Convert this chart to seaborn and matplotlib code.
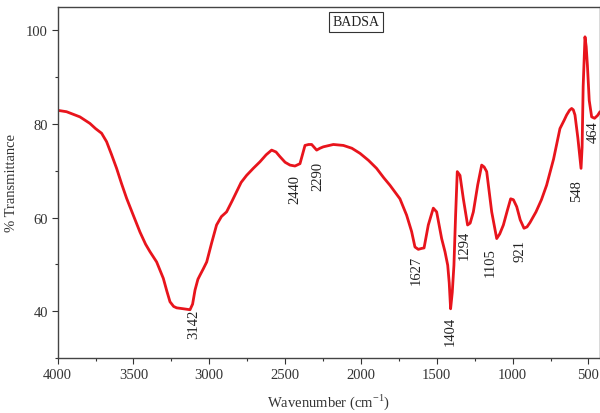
import matplotlib
matplotlib.use("Agg")
import matplotlib.pyplot as plt
import seaborn as sns
import pandas as pd
from matplotlib.ticker import MultipleLocator

wavenumber = [4000, 3941, 3853, 3787, 3750, 3710, 3677, 3645, 3611, 3578, 3545, 3500, 3457,
              3420, 3391, 3347, 3303, 3280, 3259, 3235, 3215, 3170, 3127, 3110, 3094, 3075,
              3061, 3040, 3017, 2985, 2952, 2920, 2886, 2850, 2820, 2790, 2754, 2710, 2666,
              2625, 2589, 2560, 2534, 2500, 2468, 2435, 2402, 2385, 2369, 2345, 2325, 2292,
              2270, 2248, 2182, 2116, 2060, 2006, 1950, 1897, 1850, 1809, 1743, 1699, 1666,
              1644, 1622, 1600, 1584, 1556, 1523, 1501, 1468, 1446, 1428, 1418, 1409, 1398,
              1387, 1376, 1365, 1347, 1325, 1297, 1280, 1259, 1230, 1204, 1188, 1171, 1138,
              1105, 1085, 1061, 1035, 1013, 995, 973, 950, 925, 905, 886, 846, 810, 776, 730,
              688, 660, 644, 625, 611, 600, 589, 570, 549, 542, 535, 523, 515, 507, 495, 479,
              460, 440, 424]
transmittance = [82.9, 82.6, 81.5, 80.1, 79.0, 78.0, 76.2, 73.5, 70.5, 67.2, 64.1, 60.4, 56.9,
                 54.3, 52.7, 50.5, 47.0, 44.3, 42.0, 41.0, 40.7, 40.5, 40.3, 41.5, 44.5, 46.8,
                 47.7, 49.0, 50.5, 54.5, 58.4, 60.2, 61.2, 63.5, 65.5, 67.5, 69.0, 70.5, 71.9,
                 73.4, 74.4, 74.0, 73.0, 71.8, 71.2, 71.0, 71.5, 73.5, 75.4, 75.6, 75.6, 74.4,
                 74.8, 75.1, 75.6, 75.4, 74.8, 73.7, 72.2, 70.5, 68.5, 66.9, 64.0, 60.5, 57.0,
                 53.7, 53.2, 53.4, 53.5, 58.4, 62.0, 61.2, 55.5, 52.7, 49.8, 46.0, 40.5, 44.0,
                 49.8, 60.5, 69.8, 69.0, 64.0, 58.4, 58.8, 61.2, 67.0, 71.2, 70.8, 69.8, 61.2,
                 55.5, 56.5, 58.4, 61.5, 64.0, 63.8, 62.3, 59.5, 57.7, 58.0, 58.9, 61.2, 63.8,
                 66.9, 72.5, 79.0, 80.8, 81.9, 82.9, 83.3, 83.0, 81.9, 77.0, 70.5, 75.0, 88.0,
                 98.6, 96.5, 92.5, 85.0, 81.5, 81.2, 81.8, 82.6]

peak_labels = ["3142", "2440", "2290", "1627", "1404", "1294", "1105", "921", "548", "464"]
label_x = [3105, 2435, 2281, 1633, 1413, 1321, 1149, 951, 578, 468]
label_top = [40.6, 69.4, 72.2, 52.0, 39.0, 57.3, 53.7, 55.5, 68.3, 80.8]

df = pd.DataFrame({"Wavenumber": wavenumber, "Transmittance": transmittance})

sns.set_theme(style="ticks")
plt.rcParams['font.family'] = ['Liberation Serif', 'DejaVu Serif']
plt.rcParams['mathtext.fontset'] = 'custom'
plt.rcParams['mathtext.rm'] = 'Liberation Serif'

fig = plt.figure(figsize=(6.0, 4.14), dpi=100)
ax = fig.add_axes([0.096, 0.133, 0.904, 0.848])

sns.lineplot(data=df, x="Wavenumber", y="Transmittance", sort=False, ax=ax,
             color="#e8141c", linewidth=2.0, estimator=None)

ax.set_xlim(4000, 424)
ax.set_ylim(30, 105)
ax.xaxis.set_major_locator(MultipleLocator(500))
ax.xaxis.set_minor_locator(MultipleLocator(250))
ax.yaxis.set_major_locator(MultipleLocator(20))
ax.yaxis.set_minor_locator(MultipleLocator(10))
ax.tick_params(axis='both', which='major', direction='out', length=4, width=0.8,
               labelsize=10.5, colors='#333333', pad=3)
ax.tick_params(axis='both', which='minor', direction='out', length=2.5, width=0.8,
               colors='#333333')
for lbl in ax.get_xticklabels() + ax.get_yticklabels():
    lbl.set_color('#333333')
for sp in ax.spines.values():
    sp.set_color('#444444')
    sp.set_linewidth(1.0)

ax.set_xlabel("Wavenumber (cm$^{\\mathrm{-1}}$)", fontsize=10.5, color='#333333', labelpad=8)
ax.set_ylabel("% Transmittance", fontsize=10.5, color='#333333', labelpad=6)

for txt, x, y in zip(peak_labels, label_x, label_top):
    ax.text(x, y, txt, rotation=90, ha='center', va='top', fontsize=10.5, color='#222222')

ax.text(0.55, 0.957, "BADSA", transform=ax.transAxes, ha='center', va='center',
        fontsize=10, color='#222222',
        bbox=dict(boxstyle='square,pad=0.25', facecolor='white', edgecolor='#333333', linewidth=0.8))

fig.savefig("out.png", dpi=100)
